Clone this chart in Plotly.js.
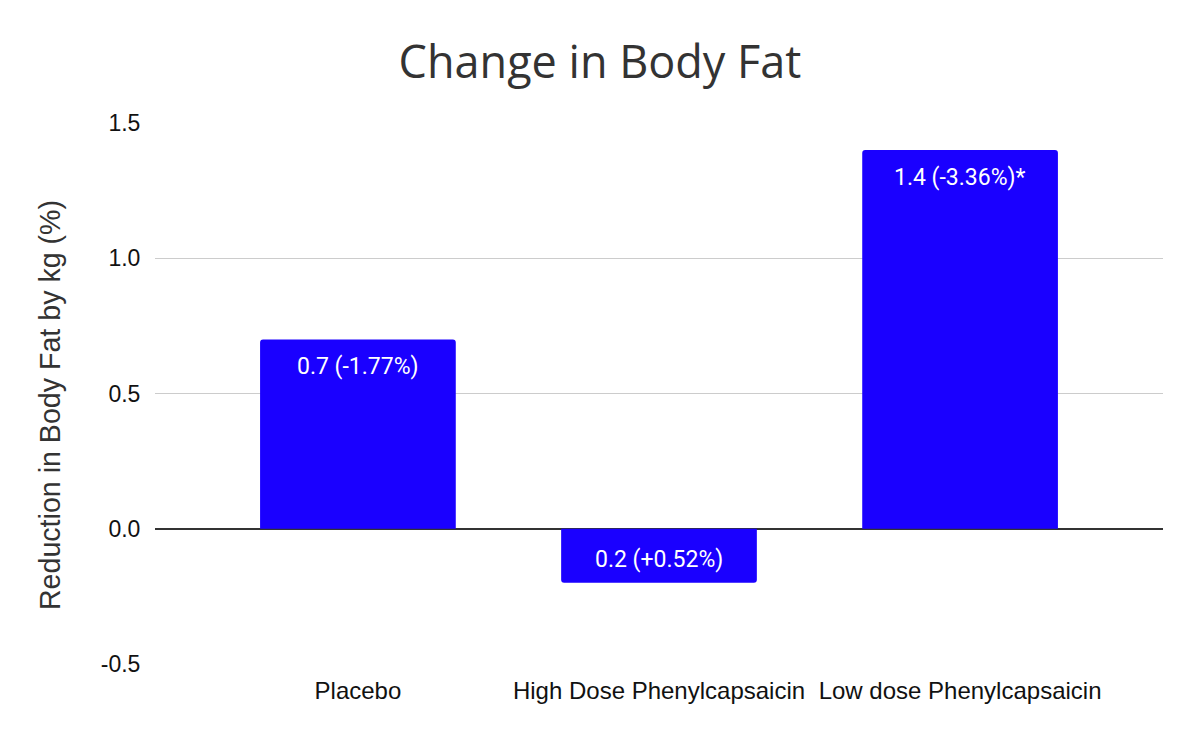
<!DOCTYPE html>
<html>
<head>
<meta charset="utf-8">
<script src="https://cdn.plot.ly/plotly-3.0.1.min.js"></script>
<style>
  html, body { margin: 0; padding: 0; background: #fff; }
  #chart { width: 1200px; height: 742px; }
</style>
</head>
<body>
<div id="chart"></div>
<script>
// Veränderung des Körperfetts pro Gruppe
var groups = ["Placebo", "High Dose Phenylcapsaicin", "Low dose Phenylcapsaicin"];
var reduction = [0.7, -0.2, 1.4];
var barLabels = ["0.7 (-1.77%)", "0.2 (+0.52%)", "1.4 (-3.36%)*"];
var yTicks = [-0.5, 0, 0.5, 1.0, 1.5];
var yTickLabels = ["-0.5", "0.0", "0.5", "1.0", "1.5"];

var trace = {
  type: "bar",
  x: groups,
  y: reduction,
  marker: { color: "#1a00ff", cornerradius: 3 },
  hoverinfo: "x+y"
};

// Beschriftung innen am Balkenende
var labels = groups.map(function (g, i) {
  return {
    x: g,
    y: reduction[i],
    text: barLabels[i],
    showarrow: false,
    yanchor: "middle",
    yshift: reduction[i] >= 0 ? -27 : 23,
    font: { family: "Roboto", size: 23, color: "#ffffff" }
  };
});

// y-Achsentitel, etwas unter der Mitte wie im Original
labels.push({
  xref: "paper",
  yref: "paper",
  x: -0.104,
  y: 0.479,
  xanchor: "center",
  yanchor: "middle",
  textangle: -90,
  showarrow: false,
  text: "Reduction in Body Fat by kg (%)",
  font: { family: "Liberation Sans", size: 28.6, color: "#333333" }
});

var layout = {
  width: 1200,
  height: 742,
  margin: { l: 155, r: 37, t: 123, b: 78 },
  paper_bgcolor: "#ffffff",
  plot_bgcolor: "#ffffff",
  showlegend: false,
  bargap: 0.35,
  annotations: labels,
  title: {
    text: "Change in Body Fat",
    font: { family: "Open Sans", size: 45, color: "#333333" },
    x: 0.5,
    xanchor: "center",
    y: 0.916,
    yanchor: "middle"
  },
  xaxis: {
    type: "category",
    range: [-0.674, 2.674],
    showgrid: false,
    zeroline: false,
    showline: false,
    ticks: "outside",
    ticklen: 5,
    tickcolor: "rgba(0,0,0,0)",
    tickfont: { family: "Liberation Sans", size: 24, color: "#111111" }
  },
  yaxis: {
    range: [-0.5, 1.5],
    tickvals: yTicks,
    ticktext: yTickLabels,
    showgrid: true,
    gridcolor: "#cccccc",
    gridwidth: 1,
    zeroline: true,
    zerolinecolor: "#333333",
    zerolinewidth: 2,
    showline: false,
    ticks: "outside",
    ticklen: 9,
    tickcolor: "rgba(0,0,0,0)",
    tickfont: { family: "Liberation Sans", size: 23, color: "#111111" }
  }
};

Plotly.newPlot("chart", [trace], layout, { displayModeBar: false, staticPlot: true });
</script>
</body>
</html>
